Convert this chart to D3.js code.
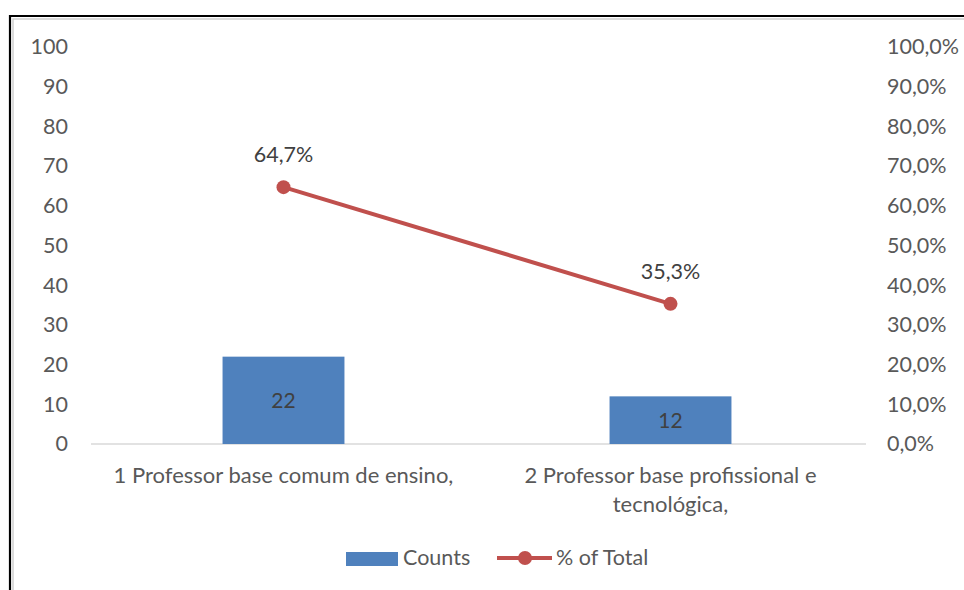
<!DOCTYPE html>
<html>
<head>
<meta charset="utf-8">
<script src="https://cdn.jsdelivr.net/npm/d3@7"></script>
<style>
body { margin: 0; background: #fff; }
svg { display: block; }
text { font-family: Lato, "Open Sans", sans-serif; }
</style>
</head>
<body>
<svg id="chart" width="964" height="590"></svg>
<script>
const categories = ["1 Professor base comum de ensino,", "2 Professor base profissional e tecnológica,"];
const categoryLines = [["1 Professor base comum de ensino,"], ["2 Professor base profissional e", "tecnológica,"]];
const counts = [22, 12];
const pctTotal = [0.647, 0.353];
const leftTicks = [0, 10, 20, 30, 40, 50, 60, 70, 80, 90, 100];
const rightTicks = [0, 0.1, 0.2, 0.3, 0.4, 0.5, 0.6, 0.7, 0.8, 0.9, 1.0];
const seriesNames = ["Counts", "% of Total"];

const svg = d3.select("#chart");
const barColor = "#4F81BD", lineColor = "#C0504D", textColor = "#595959";

// frame
svg.append("path").attr("d", "M10,590 V16 H964").attr("fill", "none").attr("stroke", "#000").attr("stroke-width", 2.2);
svg.append("path").attr("d", "M13,590 V19 H964").attr("fill", "none").attr("stroke", "#cfcfcf").attr("stroke-width", 1.5);

const x = d3.scaleBand().domain(categories).range([90, 864]);
const y = d3.scaleLinear().domain([0, 100]).range([444, 47]);
const yR = d3.scaleLinear().domain([0, 1]).range([444, 47]);
const fmtPct = d => d3.format(".1f")(d * 100).replace(".", ",") + "%";

// axes
const gl = svg.append("g").attr("transform", "translate(92,0)")
  .call(d3.axisLeft(y).tickValues(leftTicks).tickSize(0).tickPadding(24));
const gr = svg.append("g").attr("transform", "translate(866,0)")
  .call(d3.axisRight(yR).tickValues(rightTicks).tickSize(0).tickPadding(21).tickFormat(fmtPct));
[gl, gr].forEach(g => {
  g.select(".domain").remove();
  g.selectAll("text").attr("fill", textColor).style("font-size", "21.5px").style("font-family", "Lato");
});

// baseline
svg.append("line").attr("x1", 91).attr("x2", 866).attr("y1", y(0)).attr("y2", y(0))
  .attr("stroke", "#d9d9d9").attr("stroke-width", 1.3);

// bars
const bw = x.bandwidth() * 0.315;
const cx = c => x(c) + x.bandwidth() / 2;
svg.selectAll("rect.bar").data(categories).join("rect").attr("class", "bar")
  .attr("x", c => cx(c) - bw / 2).attr("width", bw)
  .attr("y", (c, i) => y(counts[i])).attr("height", (c, i) => y(0) - y(counts[i]))
  .attr("fill", barColor);
svg.selectAll("text.barlabel").data(categories).join("text").attr("class", "barlabel")
  .attr("x", cx).attr("y", (c, i) => (y(counts[i]) + y(0)) / 2).attr("dy", "0.36em")
  .attr("text-anchor", "middle").attr("fill", "#404040").style("font-size", "21px")
  .text((c, i) => counts[i]);

// line
const line = d3.line().x((d, i) => cx(categories[i])).y(d => yR(d));
svg.append("path").datum(pctTotal).attr("d", line).attr("fill", "none")
  .attr("stroke", lineColor).attr("stroke-width", 4);
svg.selectAll("circle.pt").data(pctTotal).join("circle").attr("class", "pt")
  .attr("cx", (d, i) => cx(categories[i])).attr("cy", d => yR(d)).attr("r", 7)
  .attr("fill", lineColor);
svg.selectAll("text.ptlabel").data(pctTotal).join("text").attr("class", "ptlabel")
  .attr("x", (d, i) => cx(categories[i])).attr("y", d => yR(d) - 25)
  .attr("text-anchor", "middle").attr("fill", "#404040").style("font-size", "21.5px")
  .text(fmtPct);

// category labels
categories.forEach((c, i) => {
  const t = svg.append("text").attr("x", cx(c)).attr("y", 483).attr("text-anchor", "middle")
    .attr("fill", textColor).style("font-size", "22px");
  categoryLines[i].forEach((l, j) => {
    t.append("tspan").attr("x", cx(c)).attr("dy", j === 0 ? 0 : 29).text(l);
  });
});

// legend
const lg = svg.append("g");
lg.append("rect").attr("x", 346).attr("y", 552).attr("width", 52).attr("height", 14).attr("fill", barColor);
lg.append("text").attr("x", 403).attr("y", 565).attr("fill", textColor).style("font-size", "21.5px").text(seriesNames[0]);
lg.append("line").attr("x1", 497).attr("x2", 552).attr("y1", 558).attr("y2", 558).attr("stroke", lineColor).attr("stroke-width", 4);
lg.append("circle").attr("cx", 525).attr("cy", 558).attr("r", 7).attr("fill", lineColor);
lg.append("text").attr("x", 556).attr("y", 565).attr("fill", textColor).style("font-size", "21.5px").text(seriesNames[1]);
</script>
</body>
</html>
